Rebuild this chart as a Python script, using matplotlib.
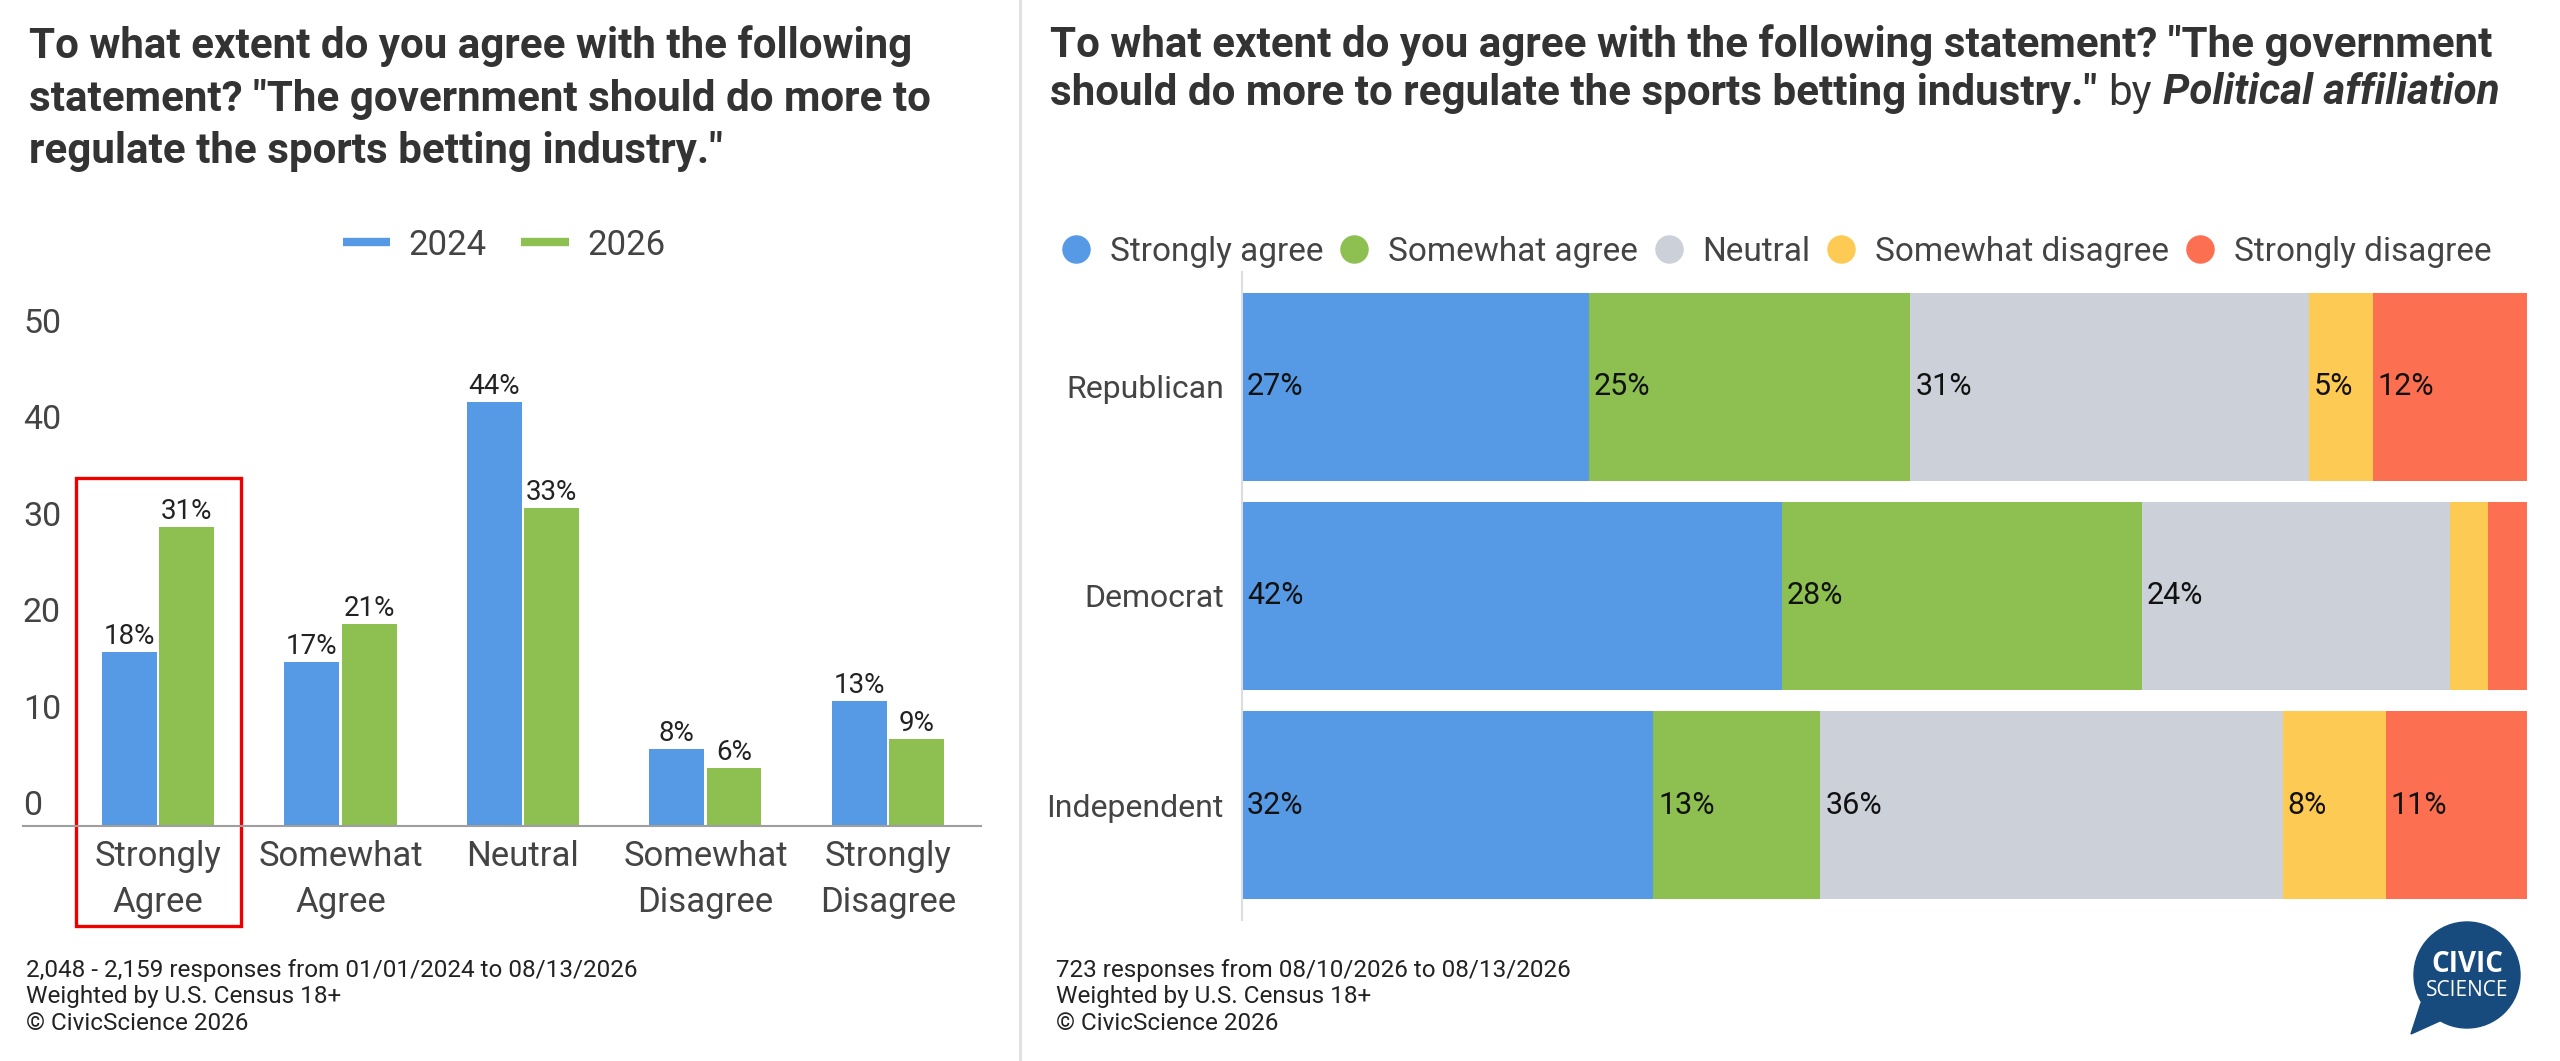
import numpy as np
import matplotlib
matplotlib.use("Agg")
import matplotlib.pyplot as plt
from matplotlib.lines import Line2D
from matplotlib.patches import Rectangle, Circle, Polygon
from matplotlib import transforms

plt.rcParams['font.family'] = ['Roboto', 'DejaVu Sans']

W, H = 2560, 1061

# ---- left chart data: agreement by year ----
answers = ['Strongly\nAgree', 'Somewhat\nAgree', 'Neutral', 'Somewhat\nDisagree', 'Strongly\nDisagree']
years = ['2024', '2026']
share_2024 = [18, 17, 44, 8, 13]
share_2026 = [31, 21, 33, 6, 9]
y_ticks = [0, 10, 20, 30, 40, 50]

# ---- right chart data: agreement by political affiliation ----
parties = ['Republican', 'Democrat', 'Independent']
levels = ['Strongly agree', 'Somewhat agree', 'Neutral', 'Somewhat disagree', 'Strongly disagree']
strongly_agree = [27, 42, 32]
somewhat_agree = [25, 28, 13]
neutral = [31, 24, 36]
somewhat_disagree = [5, 3, 8]
strongly_disagree = [12, 3, 11]

BLUE = '#5699e4'
GREEN = '#8dbf51'
GRAY = '#ccd0d9'
YELLOW = '#fdca54'
RED = '#fd6f51'
NAVY = '#174b7d'
level_colors = [BLUE, GREEN, GRAY, YELLOW, RED]


def fx(px):
    return px / W


def fy(py):
    return 1 - py / H


fig = plt.figure(figsize=(W / 100, H / 100), dpi=100, facecolor='white')

# ---------------- left: grouped columns ----------------
ax1 = fig.add_axes([fx(23), fy(826), (981 - 23) / W, (826 - 344) / H])
x = np.arange(len(answers))
bw = 0.3
b1 = ax1.bar(x - 0.157, share_2024, bw, color=BLUE)
b2 = ax1.bar(x + 0.157, share_2026, bw, color=GREEN)
for bars in (b1, b2):
    for rect in bars:
        v = rect.get_height()
        ax1.annotate(f'{v:.0f}%', (rect.get_x() + rect.get_width() / 2, v),
                     xytext=(0, 2), textcoords='offset pixels',
                     ha='center', va='bottom', fontsize=20, color='#222222')

ax1.set_xlim(-0.74, 4.51)
ax1.set_ylim(0, 50)
ax1.set_yticks([])
ax1.set_xticks(x, answers)
ax1.tick_params(axis='x', length=0, pad=10, labelsize=25, colors='#444444')
for lab in ax1.get_xticklabels():
    lab.set_linespacing(1.5)
for s in ['top', 'left', 'right']:
    ax1.spines[s].set_visible(False)
ax1.spines['bottom'].set_color('#9e9e9e')
ax1.spines['bottom'].set_linewidth(1.5)

ytr = transforms.offset_copy(ax1.get_yaxis_transform(), fig=fig, x=0, y=20, units='dots')
for v in y_ticks:
    ax1.text(0, v, str(v), transform=ytr, ha='left', va='center',
             fontsize=24.5, color='#444444')

# highlight box round the first category
ax1.add_patch(Rectangle((0 - 0.45, -10.4), 0.905, 46.5, fill=False,
                        ec='#ee0000', lw=2.4, clip_on=False))

handles = [Line2D([], [], color=c, lw=6, solid_capstyle='butt') for c in (BLUE, GREEN)]
fig.legend(handles, years, loc='center', bbox_to_anchor=(fx(504), fy(245)),
           ncol=2, frameon=False, fontsize=25, handlelength=1.38,
           handletextpad=0.52, columnspacing=1.0, labelcolor='#444444')

# ---------------- right: stacked bars ----------------
ax2 = fig.add_axes([fx(1242), fy(920), (2527 - 1242) / W, (920 - 272) / H])
y = np.arange(len(parties))
series = [strongly_agree, somewhat_agree, neutral, somewhat_disagree, strongly_disagree]
left = np.zeros(len(parties))
for vals, c in zip(series, level_colors):
    ax2.barh(y, vals, left=left, height=0.9, color=c)
    for yi, (l0, v) in enumerate(zip(left, vals)):
        if v >= 4:
            ax2.annotate(f'{v}%', (l0, yi), xytext=(5, 0), textcoords='offset pixels',
                         ha='left', va='center', fontsize=22, color='#111111')
    left += np.array(vals)

ax2.set_xlim(0, 100)
ax2.set_ylim(2.55, -0.55)
ax2.set_xticks([])
ax2.set_yticks(y, parties)
ax2.tick_params(axis='y', length=0, pad=13, labelsize=23, colors='#444444')
for s in ['top', 'bottom', 'right']:
    ax2.spines[s].set_visible(False)
ax2.spines['left'].set_color('#dddddd')
ax2.spines['left'].set_linewidth(1.5)

handles = [Line2D([], [], marker='o', ls='none', ms=19.5, mfc=c, mec=c) for c in level_colors]
fig.legend(handles, levels, loc='center', bbox_to_anchor=(fx(1777), fy(252)),
           ncol=5, frameon=False, fontsize=24, handlelength=0.8,
           handletextpad=0.62, columnspacing=0.52, labelcolor='#444444')

# ---------------- titles ----------------
TS = 30.3
title_kw = dict(ha='left', va='center', fontsize=TS, fontweight='bold', color='#333333')
left_title = ['To what extent do you agree with the following',
              'statement? "The government should do more to',
              'regulate the sports betting industry."']
for line, py in zip(left_title, [46, 99, 151]):
    fig.text(fx(29), fy(py), line, **title_kw)

fig.text(fx(1050), fy(45),
         'To what extent do you agree with the following statement? "The government',
         **title_kw)
renderer = fig.canvas.get_renderer()
t = fig.text(fx(1050), fy(93), 'should do more to regulate the sports betting industry."', **title_kw)
x1 = t.get_window_extent(renderer).x1
t = fig.text(fx(x1 + 11), fy(93), 'by', ha='left', va='center', fontsize=TS, color='#333333')
x1 = t.get_window_extent(renderer).x1
fig.text(fx(x1 + 11), fy(93), 'Political affiliation', ha='left', va='center',
         fontsize=TS, fontweight='bold', fontstyle='italic', color='#333333')

# ---------------- footers ----------------
foot_left = ['2,048 - 2,159 responses from 01/01/2024 to 08/13/2026',
             'Weighted by U.S. Census 18+', '\u00a9 CivicScience 2026']
foot_right = ['723 responses from 08/10/2026 to 08/13/2026',
              'Weighted by U.S. Census 18+', '\u00a9 CivicScience 2026']
for line, py in zip(foot_left, [970, 997, 1024]):
    fig.text(fx(26), fy(py), line, ha='left', va='center', fontsize=17.5, color='#222222')
for line, py in zip(foot_right, [970, 997, 1024]):
    fig.text(fx(1056), fy(py), line, ha='left', va='center', fontsize=17.5, color='#222222')

# divider between the two panels
fig.add_artist(Line2D([fx(1020), fx(1020)], [0, 1], color='#e0e0e0', lw=2.2))

# ---------------- logo ----------------
axl = fig.add_axes([0, 0, 1, 1])
axl.set_xlim(0, W)
axl.set_ylim(H, 0)
axl.axis('off')
axl.patch.set_alpha(0)
axl.add_patch(Circle((2467, 975), 53, color=NAVY))
axl.add_patch(Polygon([[2421, 1003], [2411, 1034], [2442, 1020]], color=NAVY))
axl.text(2467, 965, 'CIVIC', ha='center', va='center', color='white', fontsize=20,
         fontweight='bold', family=['Open Sans', 'DejaVu Sans'])
axl.text(2467, 990, 'SCIENCE', ha='center', va='center', color='white', fontsize=15,
         family=['Open Sans', 'DejaVu Sans'])

fig.savefig('out.png', dpi=100, facecolor='white')
